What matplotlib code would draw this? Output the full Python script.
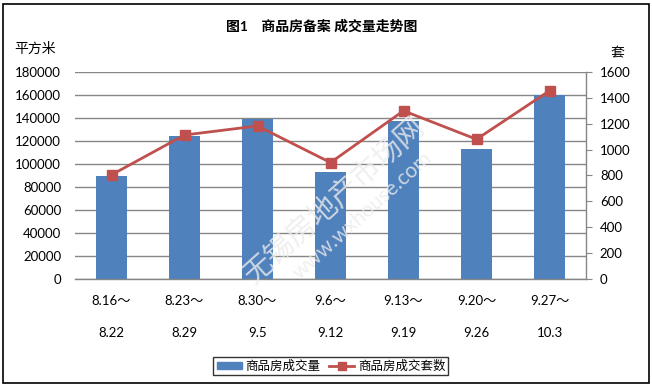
import matplotlib
matplotlib.use("Agg")
import matplotlib.pyplot as plt
import matplotlib.transforms as mtransforms
from matplotlib.patches import Rectangle
from matplotlib.lines import Line2D
from matplotlib.patches import Patch
import numpy as np

plt.rcParams['font.family'] = ['Lato', 'Noto Sans CJK SC', 'DejaVu Sans']

periods_start = ["8.16～", "8.23～", "8.30～", "9.6～", "9.13～", "9.20～", "9.27～"]
periods_end = ["8.22", "8.29", "9.5", "9.12", "9.19", "9.26", "10.3"]
area = [89500, 124500, 139500, 93000, 137500, 113000, 160000]
units = [805, 1113, 1183, 900, 1300, 1080, 1455]
left_ticks = [0, 20000, 40000, 60000, 80000, 100000, 120000, 140000, 160000, 180000]
right_ticks = [0, 200, 400, 600, 800, 1000, 1200, 1400, 1600]

W, H = 652, 387
fig = plt.figure(figsize=(W / 100, H / 100), dpi=100)
ax = fig.add_axes([75 / W, 1 - 279 / H, (586 - 75) / W, (279 - 72) / H])
ax2 = ax.twinx()

x = np.arange(len(area))
bar_color = '#4F81BD'
line_color = '#C0504D'
grid_color = '#868686'

ax.bar(x, area, width=0.42, color=bar_color, zorder=2)
ax.set_xlim(-0.5, len(area) - 0.5)
ax.set_ylim(0, 180000)
ax.set_yticks(left_ticks)
ax.set_yticklabels([str(v) for v in left_ticks], fontsize=9.5)
ax.yaxis.grid(True, color=grid_color, linewidth=1)
ax.set_axisbelow(True)
ax.tick_params(axis='y', length=0, pad=10)
ax.tick_params(axis='x', length=0, labelbottom=False)
for s in ['top', 'left', 'right']:
    ax.spines[s].set_visible(False)
ax.spines['bottom'].set_color(grid_color)
ax.spines['bottom'].set_linewidth(1)

ax2.plot(x, units, color=line_color, linewidth=2, marker='s', markersize=7,
         markerfacecolor=line_color, markeredgecolor=line_color, zorder=3)
ax2.set_ylim(0, 1600)
ax2.set_yticks(right_ticks)
ax2.set_yticklabels([str(v) for v in right_ticks], fontsize=9.5)
ax2.tick_params(axis='y', length=4, color=grid_color, pad=6, direction='out')
for s in ['top', 'left', 'bottom']:
    ax2.spines[s].set_visible(False)
ax2.spines['right'].set_color(grid_color)
ax2.spines['right'].set_linewidth(1)

# two-line category labels
trans = mtransforms.blended_transform_factory(ax.transData, fig.transFigure)
for i in range(len(x)):
    fig.text(x[i], 1 - 301 / H, periods_start[i], transform=trans, ha='center', va='center', fontsize=9.5)
    fig.text(x[i], 1 - 333 / H, periods_end[i], transform=trans, ha='center', va='center', fontsize=9.5)

# watermark
fig.text(335 / W, 1 - 200 / H, "无锡房地产市场网", rotation=42, fontsize=21, color='#ececec',
         ha='center', va='center', zorder=0, alpha=0.8)
fig.text(362 / W, 1 - 215 / H, "www.wxhouse.com", rotation=42, fontsize=15, color='#ececec',
         ha='center', va='center', zorder=0, alpha=0.8)

fig.text(322 / W, 1 - 26 / H, "图1    商品房备案 成交量走势图", ha='center', va='center',
         fontsize=10, fontweight='bold')
fig.text(14 / W, 1 - 48 / H, "平方米", ha='left', va='center', fontsize=10)
fig.text(617 / W, 1 - 53 / H, "套", ha='center', va='center', fontsize=10)

handles = [Patch(color=bar_color, label='商品房成交量'),
           Line2D([0], [0], color=line_color, linewidth=2, marker='s', markersize=6, label='商品房成交套数')]
leg = fig.legend(handles=handles, loc='center', bbox_to_anchor=(331 / W, 1 - 366 / H), ncol=2,
                 fontsize=9, frameon=True, fancybox=False, edgecolor='black', borderpad=0.25,
                 handlelength=2.0, handleheight=0.45, columnspacing=0.7, handletextpad=0.3,
                 borderaxespad=0)
leg.get_frame().set_linewidth(1)

fig.patches.append(Rectangle((3 / W, 4 / H), 646 / W, 379 / H, transform=fig.transFigure,
                             fill=False, edgecolor='black', linewidth=1.2))

fig.savefig('out.png', dpi=100)
